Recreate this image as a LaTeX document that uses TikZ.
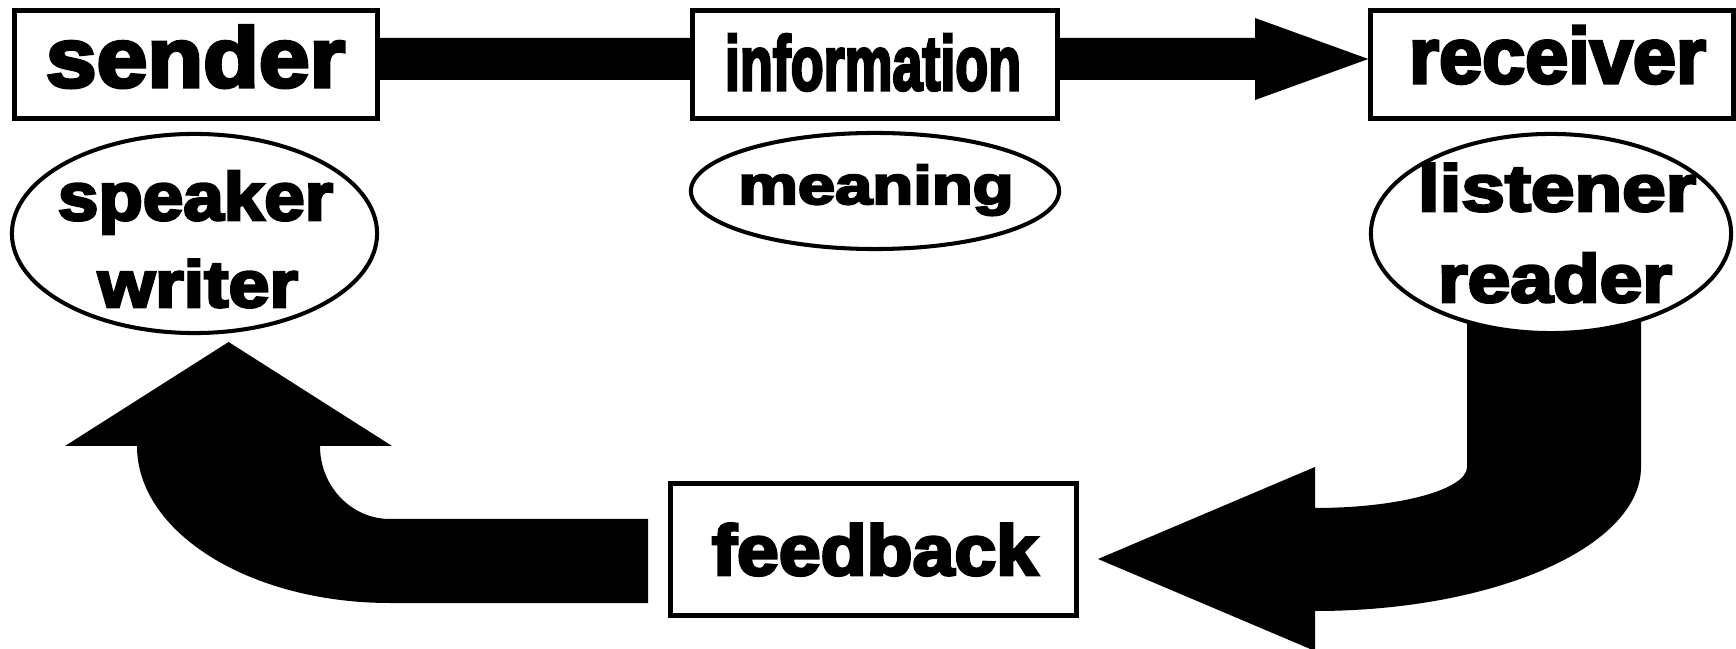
\documentclass[tikz,border=0pt]{standalone}
\usepackage{graphicx}
\usepackage{fontspec}
\setmainfont{Liberation Sans}[BoldFeatures={FakeBold=4}]
\usetikzlibrary{shapes.geometric}
\pgfdeclarelayer{background}
\pgfsetlayers{background,main}
\newcommand\lab[3]{{\fontsize{#1}{#1}\selectfont\bfseries\resizebox{#2}{\height}{#3}}}
\begin{document}
\begin{tikzpicture}[x=0.01cm,y=-0.01cm,
  boxnode/.style={draw, line width=1.45pt, fill=white, rectangle, inner sep=0pt},
  ellnode/.style={draw, line width=1.15pt, fill=white, ellipse, inner sep=0pt},
  lbl/.style={inner sep=0pt, anchor=base},
  blockarrow/.style={fill=black, draw=none}]
\useasboundingbox (0,0) rectangle (1736,649);

% boxes and ellipses
\node[boxnode, minimum width=3.63cm, minimum height=1.08cm] (senderbox) at (196,64.5) {};
\node[boxnode, minimum width=3.64cm, minimum height=1.08cm] (infobox) at (875,64.5) {};
\node[boxnode, minimum width=3.62cm, minimum height=1.08cm] (receiverbox) at (1552,64.5) {};
\node[boxnode, minimum width=4.06cm, minimum height=1.32cm] (feedbackbox) at (873.5,549.5) {};
\node[ellnode, minimum width=3.65cm, minimum height=1.99cm] (speakerell) at (194.5,233.5) {};
\node[ellnode, minimum width=3.68cm, minimum height=1.16cm] (meaningell) at (875,191) {};
\node[ellnode, minimum width=3.60cm, minimum height=1.99cm] (listenerell) at (1551,233.5) {};

% texts
\node[lbl] (t-sender) at (195.5,87) {\lab{24.1}{2.99cm}{sender}};
\node[lbl] (t-info) at (873,90) {\lab{21.9}{2.96cm}{information}};
\node[lbl] (t-receiver) at (1557.5,83) {\lab{22.4}{2.97cm}{receiver}};
\node[lbl] (t-speaker) at (195.5,220) {\lab{19.2}{2.75cm}{speaker}};
\node[lbl] (t-writer) at (198,307) {\lab{18.7}{2.00cm}{writer}};
\node[lbl] (t-meaning) at (876,204) {\lab{15.4}{2.75cm}{meaning}};
\node[lbl] (t-listener) at (1557,211) {\lab{18.7}{2.78cm}{listener}};
\node[lbl] (t-reader) at (1555,302) {\lab{19.2}{2.34cm}{reader}};
\node[lbl] (t-feedback) at (875,575) {\lab{20.2}{3.26cm}{feedback}};

\begin{pgfonlayer}{background}
% sender -> receiver
\path[blockarrow] (senderbox.east |- 0,38) -- (1255,38) -- (1255,18) -- (receiverbox.west |- 0,59)
  -- (1255,100) -- (1255,80) -- (senderbox.east |- 0,80) -- cycle;
% listener -> feedback
\path[blockarrow] (1467,300) -- (1467,467) .. controls (1467,489.6) and (1399,508) .. (1315,508)
  -- (1315,467) -- (1098,559) -- (1315,651) -- (1315,611)
  .. controls (1495,611) and (1641,546.5) .. (1641,467) -- (1641,300) -- cycle;
% feedback -> speaker
\path[blockarrow] (648,519) -- (390,519) .. controls (351.3,519) and (320,486.3) .. (320,446)
  -- (392,446) -- (228.6,342) -- (65,446) -- (137,446)
  .. controls (137,532.7) and (250.3,603) .. (390,603) -- (648,603) -- cycle;
\end{pgfonlayer}
\end{tikzpicture}
\end{document}
